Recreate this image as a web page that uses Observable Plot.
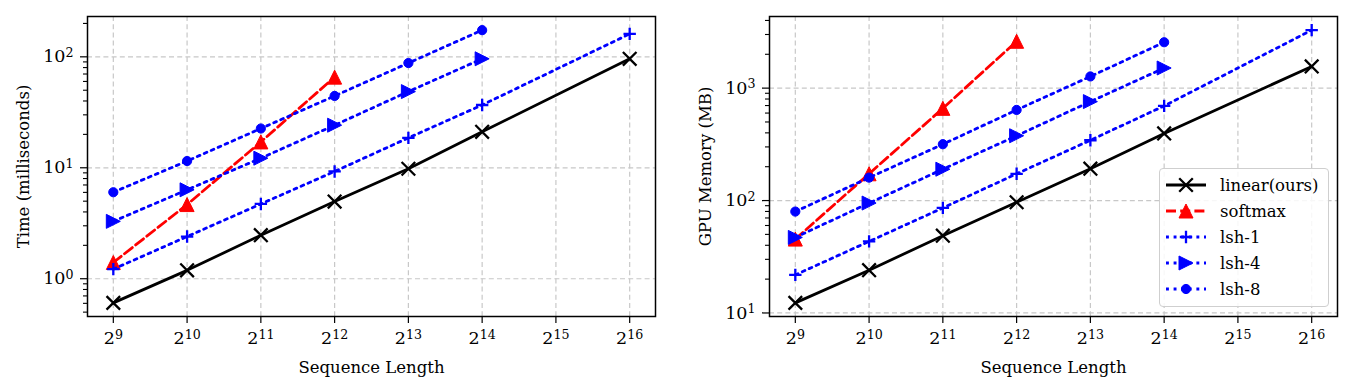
<!DOCTYPE html>
<html>
<head>
<meta charset="utf-8">
<script src="https://cdn.jsdelivr.net/npm/d3@7"></script>
<script src="https://cdn.jsdelivr.net/npm/@observablehq/plot@0.6"></script>
<style>
  html, body { margin: 0; padding: 0; background: #fff; }
  #wrap { position: relative; width: 1364px; height: 390px; display: flex; font-family: "DejaVu Serif", serif; }
  .panel { position: relative; }
  .panel svg g[aria-label="x-axis tick label"], .panel svg g[aria-label="y-axis tick label"] { font-size: 17.5px !important; font-family: "DejaVu Serif", serif; }
  .panel svg g[aria-label="x-axis label"], .panel svg g[aria-label="y-axis label"] { font-size: 16.5px !important; font-family: "DejaVu Serif", serif; }
  .legend { position: absolute; box-sizing: border-box; border: 1px solid #cfcfcf; border-radius: 4px;
            background: rgba(255,255,255,0.85); padding: 3px 6px 3px 6px; font-family: "DejaVu Serif", serif; font-size: 16.5px; color: #000; }
  .legend .row { display: flex; align-items: center; height: 26px; }
  .legend svg { margin-right: 14px; overflow: visible; }
</style>
</head>
<body>
<div id="wrap"></div>
<script>
// ---- data ----
const seqLength = [512, 1024, 2048, 4096, 8192, 16384, 65536];
const xTicks = [512, 1024, 2048, 4096, 8192, 16384, 32768, 65536];
const seriesNames = ["linear(ours)", "softmax", "lsh-1", "lsh-4", "lsh-8"];

const timeLinear  = [0.606, 1.19, 2.47, 4.96, 9.8, 21.1, 96];
const timeSoftmax = [1.40, 4.66, 17.1, 65.6];
const timeLsh1    = [1.22, 2.40, 4.72, 9.27, 18.6, 36.8, 161];
const timeLsh4    = [3.29, 6.33, 12.2, 24.2, 48.6, 96];
const timeLsh8    = [6.02, 11.5, 22.6, 44.4, 87.9, 174];

const memLinear  = [12.3, 24, 48.7, 96.6, 192, 395, 1560];
const memSoftmax = [45.4, 173, 661, 2610];
const memLsh1    = [21.8, 43.3, 86, 173, 344, 695, 3280];
const memLsh4    = [47, 95, 190, 377, 759, 1510];
const memLsh8    = [79.8, 160, 317, 640, 1270, 2560];

const timeMajor = [1, 10, 100];
const memMajor = [10, 100, 1000];

// ---- styles ----
const R = (s) => Math.sqrt(s / Math.PI);
const symbols = {
  times: { draw(c, s) { const r = R(s); c.moveTo(-r, -r); c.lineTo(r, r); c.moveTo(-r, r); c.lineTo(r, -r); } },
  plus: { draw(c, s) { const r = R(s); c.moveTo(-r, 0); c.lineTo(r, 0); c.moveTo(0, -r); c.lineTo(0, r); } },
  triUp: { draw(c, s) { const r = R(s); c.moveTo(0, -r); c.lineTo(r, r); c.lineTo(-r, r); c.closePath(); } },
  triRight: { draw(c, s) { const r = R(s); c.moveTo(r, 0); c.lineTo(-r, r); c.lineTo(-r, -r); c.closePath(); } },
  circle: { draw(c, s) { const r = R(s); c.moveTo(r, 0); c.arc(0, 0, r, 0, 2 * Math.PI); } }
};
const LW = 2.8;
const styles = [
  { color: "#000000", dash: null, symbol: symbols.times, r: 6.8, filled: false },
  { color: "#ff0000", dash: "10,4.2", symbol: symbols.triUp, r: 7, filled: true },
  { color: "#0000ff", dash: "2.9,4.7", symbol: symbols.plus, r: 6.2, filled: false },
  { color: "#0000ff", dash: "2.9,4.7", symbol: symbols.triRight, r: 7, filled: true },
  { color: "#0000ff", dash: "2.9,4.7", symbol: symbols.circle, r: 4.6, filled: true }
];

const xDomain = [2 ** 8.65, 2 ** 16.35];
function logPad(values) {
  const lo = Math.log10(d3.min(values)), hi = Math.log10(d3.max(values));
  const p = (hi - lo) * 0.05;
  return [10 ** (lo - p), 10 ** (hi + p)];
}
function minorTicks(domain) {
  const out = [];
  for (let k = -2; k <= 5; k++) for (let m = 2; m <= 9; m++) {
    const v = m * 10 ** k; if (v >= domain[0] && v <= domain[1]) out.push(v);
  }
  return out;
}

function superscripts(svg) {
  const ns = "http://www.w3.org/2000/svg";
  svg.querySelectorAll("text").forEach(t => {
    const s = t.textContent;
    if (!/^\d+\^\d+$/.test(s)) return;
    const [b, e] = s.split("^");
    t.textContent = "";
    const t1 = document.createElementNS(ns, "tspan"); t1.textContent = b;
    const t2 = document.createElementNS(ns, "tspan"); t2.textContent = e;
    t2.setAttribute("dy", "-0.42em"); t2.setAttribute("font-size", "72%");
    t.append(t1, t2);
  });
}

function panel({ series, major, yLabel, width, marginLeft, marginRight }) {
  const all = series.flat();
  const yDomain = logPad(all);
  const grid = { stroke: "#c8c8c8", strokeOpacity: 1, strokeWidth: 1.2, strokeDasharray: "5,3.2" };
  const marks = [
    Plot.gridX(xTicks, grid),
    Plot.gridY(major.filter(v => v >= yDomain[0] && v <= yDomain[1]), grid)
  ];
  series.forEach((vals, i) => {
    const st = styles[i];
    const data = vals.map((v, j) => ({ x: seqLength[j], y: v }));
    marks.push(Plot.line(data, { x: "x", y: "y", stroke: st.color, strokeWidth: LW, strokeDasharray: st.dash }));
    marks.push(Plot.dot(data, {
      x: "x", y: "y", r: st.r, symbol: st.symbol,
      fill: st.filled ? st.color : "none", stroke: st.color, strokeWidth: st.filled ? 1 : 2.3
    }));
  });
  marks.push(
    Plot.axisY({ ticks: minorTicks(yDomain), tickSize: 4, tickFormat: () => "", strokeWidth: 1.1, label: null }),
    Plot.axisY({ ticks: major, tickSize: 7, tickPadding: 7, strokeWidth: 1.2, fontSize: 17.5,
      tickFormat: d => "10^" + Math.round(Math.log10(d)),
      label: yLabel, labelAnchor: "center", labelOffset: 70, labelArrow: "none" }),
    Plot.axisX({ ticks: xTicks, tickSize: 7, tickPadding: 8, strokeWidth: 1.2, fontSize: 17.5,
      tickFormat: d => "2^" + Math.round(Math.log2(d)),
      label: "Sequence Length", labelAnchor: "center", labelOffset: 56, labelArrow: "none" }),
    Plot.frame({ stroke: "#000", strokeWidth: 1.5 })
  );
  const svg = Plot.plot({
    width, height: 390, marginLeft, marginRight, marginTop: 16, marginBottom: 74,
    x: { type: "log", base: 2, domain: xDomain },
    y: { type: "log", domain: yDomain },
    style: { fontFamily: "DejaVu Serif, serif", fontSize: "17px", color: "#000", background: "#fff" },
    marks
  });
  superscripts(svg);
  return svg;
}

const wrap = document.getElementById("wrap");
const left = document.createElement("div"); left.className = "panel";
left.append(panel({
  series: [timeLinear, timeSoftmax, timeLsh1, timeLsh4, timeLsh8],
  major: timeMajor, yLabel: "Time (milliseconds)", width: 680, marginLeft: 87, marginRight: 25
}));
const right = document.createElement("div"); right.className = "panel";
right.append(panel({
  series: [memLinear, memSoftmax, memLsh1, memLsh4, memLsh8],
  major: memMajor, yLabel: "GPU Memory (MB)", width: 684, marginLeft: 89, marginRight: 27
}));
wrap.append(left, right);

// legend
const legend = document.createElement("div");
legend.className = "legend";
legend.style.left = "479px"; legend.style.top = "168px"; legend.style.width = "170px"; legend.style.height = "139px";
seriesNames.forEach((name, i) => {
  const st = styles[i];
  const row = document.createElement("div"); row.className = "row";
  const s = d3.create("svg").attr("width", 40).attr("height", 20);
  s.append("line").attr("x1", 0).attr("x2", 40).attr("y1", 10).attr("y2", 10)
    .attr("stroke", st.color).attr("stroke-width", LW).attr("stroke-dasharray", st.dash);
  s.append("path").attr("transform", "translate(20,10)")
    .attr("d", d3.symbol(st.symbol, st.r * st.r * Math.PI)())
    .attr("fill", st.filled ? st.color : "none").attr("stroke", st.color).attr("stroke-width", st.filled ? 1 : 2.3);
  row.append(s.node());
  const lab = document.createElement("span"); lab.textContent = name;
  row.append(lab);
  legend.append(row);
});
right.append(legend);
</script>
</body>
</html>
